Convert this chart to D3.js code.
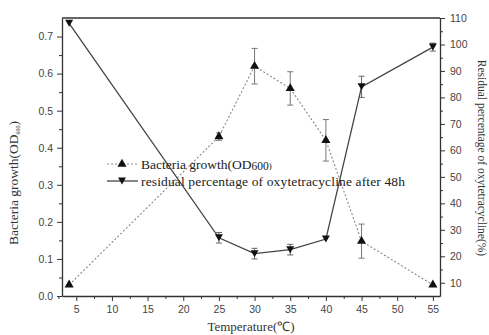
<!DOCTYPE html>
<html><head><meta charset="utf-8">
<script src="https://cdn.jsdelivr.net/npm/d3@7"></script>
<style>body{margin:0;background:#fff}svg{display:block}</style>
</head><body><div id="c"></div>
<script>
const temps = [4, 25, 30, 35, 40, 45, 55];
const growth = [0.03, 0.43, 0.62, 0.56, 0.42, 0.148, 0.03];
const growthErr = [0, 0.01, 0.048, 0.045, 0.056, 0.046, 0];
const residual = [108, 27, 21, 22.5, 26.5, 84, 99];
const residualErr = [0, 2, 2, 2, 0, 4, 1.5];
const xTicks = [5, 10, 15, 20, 25, 30, 35, 40, 45, 50, 55];
const leftTicks = [0, 0.1, 0.2, 0.3, 0.4, 0.5, 0.6, 0.7];
const rightTicks = [10, 20, 30, 40, 50, 60, 70, 80, 90, 100, 110];
const legendLabels = ["Bacteria growth(OD", "residual percentage  of oxytetracycline after 48h"];

const W = 489, H = 335;
const L = 62, R = 440, T = 18, B = 296;
const svg = d3.select("#c").append("svg").attr("width", W).attr("height", H);

const x = d3.scaleLinear().domain([3, 56]).range([L, R]);
const yL = d3.scaleLinear().domain([0, 0.75]).range([B, T]);
const yR = d3.scaleLinear().domain([5, 110]).range([B, T]);

const sans = "'Liberation Sans', Arial, sans-serif";
const serif = "'Liberation Serif', 'Times New Roman', serif";
const axCol = "#333";

function styleAxis(g){
  g.selectAll("path").attr("stroke", axCol).attr("stroke-width", 1.3);
  g.selectAll("line").attr("stroke", axCol).attr("stroke-width", 1);
  g.selectAll("text").attr("font-family", sans).attr("font-size", 10.5).attr("fill", "#444");
}
const xMinor = d3.range(2.5, 56, 5);
const lMinor = d3.range(0.05, 0.75, 0.1);
const rMinor = d3.range(15, 110, 10);

svg.append("g").attr("transform", `translate(0,${B})`)
  .call(d3.axisBottom(x).tickValues(xMinor).tickSize(3).tickFormat("").tickSizeOuter(0))
  .call(g=>{g.select("path").remove(); styleAxis(g);});
svg.append("g").attr("transform", `translate(0,${B})`)
  .call(d3.axisBottom(x).tickValues(xTicks).tickSize(5).tickSizeOuter(0).tickPadding(5))
  .call(styleAxis);

svg.append("g").attr("transform", `translate(${L},0)`)
  .call(d3.axisLeft(yL).tickValues(lMinor).tickSize(3).tickFormat("").tickSizeOuter(0))
  .call(g=>{g.select("path").remove(); styleAxis(g);});
svg.append("g").attr("transform", `translate(${L},0)`)
  .call(d3.axisLeft(yL).tickValues(leftTicks).tickSize(5).tickSizeOuter(0).tickPadding(4).tickFormat(d3.format(".1f")))
  .call(styleAxis);

svg.append("g").attr("transform", `translate(${R},0)`)
  .call(d3.axisRight(yR).tickValues(rMinor).tickSize(3).tickFormat("").tickSizeOuter(0))
  .call(g=>{g.select("path").remove(); styleAxis(g);});
svg.append("g").attr("transform", `translate(${R},0)`)
  .call(d3.axisRight(yR).tickValues(rightTicks).tickSize(5).tickSizeOuter(0).tickPadding(5))
  .call(styleAxis);

svg.append("line").attr("x1", L).attr("x2", R).attr("y1", T).attr("y2", T)
  .attr("stroke", axCol).attr("stroke-width", 1.3);

svg.append("text").attr("x", x(29.5)).attr("y", 331).attr("text-anchor", "middle")
  .attr("font-family", serif).attr("font-size", 13).attr("fill", "#333").text("Temperature(℃)");

const lt = svg.append("text").attr("transform", `translate(18,183) rotate(-90)`).attr("text-anchor", "middle")
  .attr("font-family", serif).attr("font-size", 13.5).attr("fill", "#333");
lt.append("tspan").text("Bacteria growth(OD");
lt.append("tspan").attr("font-size", 6).attr("dy", 2).text("600");
lt.append("tspan").attr("dy", -2).text(")");

svg.append("text").attr("transform", `translate(478,158) rotate(90)`).attr("text-anchor", "middle")
  .attr("font-family", serif).attr("font-size", 11.5).attr("fill", "#333")
  .text("Residual percentage  of oxytetracycline(%)");

const triUp = d3.symbol().type(d3.symbolTriangle).size(36);
const triDown = "M0,3.5L-4,-3.5L4,-3.5Z";

const gData = temps.map((t,i)=>({t, v: growth[i], e: growthErr[i]}));
const rData = temps.map((t,i)=>({t, v: residual[i], e: residualErr[i]}));

svg.append("path").datum(gData)
  .attr("d", d3.line().x(d=>x(d.t)).y(d=>yL(d.v)))
  .attr("fill","none").attr("stroke","#888").attr("stroke-width",1.1).attr("stroke-dasharray","2,2");
svg.append("path").datum(rData)
  .attr("d", d3.line().x(d=>x(d.t)).y(d=>yR(d.v)))
  .attr("fill","none").attr("stroke","#444").attr("stroke-width",1.3);

function errBars(data, y, col){
  const g = svg.append("g").attr("stroke", col).attr("stroke-width", 1);
  data.filter(d=>d.e>0).forEach(d=>{
    const cx = x(d.t), y1 = y(d.v + d.e), y2 = y(d.v - d.e);
    g.append("line").attr("x1",cx).attr("x2",cx).attr("y1",y1).attr("y2",y2);
    g.append("line").attr("x1",cx-3).attr("x2",cx+3).attr("y1",y1).attr("y2",y1);
    g.append("line").attr("x1",cx-3).attr("x2",cx+3).attr("y1",y2).attr("y2",y2);
  });
}
errBars(gData, yL, "#777");
errBars(rData, yR, "#666");

svg.append("g").selectAll("path").data(gData).join("path")
  .attr("transform", d=>`translate(${x(d.t)},${yL(d.v)})`).attr("d", triUp).attr("fill", "#111");
svg.append("g").selectAll("path").data(rData).join("path")
  .attr("transform", d=>`translate(${x(d.t)},${yR(d.v)})`).attr("d", triDown).attr("fill", "#111");

const lg = svg.append("g");
const ly = [164, 181];
lg.append("line").attr("x1",107).attr("x2",138).attr("y1",ly[0]).attr("y2",ly[0])
  .attr("stroke","#888").attr("stroke-width",1.1).attr("stroke-dasharray","2,2");
lg.append("path").attr("transform",`translate(122,${ly[0]})`).attr("d", triUp).attr("fill","#111");
lg.append("line").attr("x1",107).attr("x2",138).attr("y1",ly[1]).attr("y2",ly[1])
  .attr("stroke","#444").attr("stroke-width",1.3);
lg.append("path").attr("transform",`translate(122,${ly[1]})`).attr("d", triDown).attr("fill","#111");

const t1 = lg.append("text").attr("x",141).attr("y",ly[0]+4.5).attr("font-family",serif).attr("font-size",13.5).attr("fill","#222");
t1.append("tspan").text(legendLabels[0]);
t1.append("tspan").attr("font-size",11.5).attr("dy",1.5).text("600");
t1.append("tspan").attr("dy",-1.5).attr("font-size",9).text(")");
lg.append("text").attr("x",141).attr("y",ly[1]+4.5).attr("font-family",serif).attr("font-size",13.5).attr("fill","#222")
  .attr("textLength", 264).attr("lengthAdjust","spacing")
  .text(legendLabels[1]);
</script></body></html>
